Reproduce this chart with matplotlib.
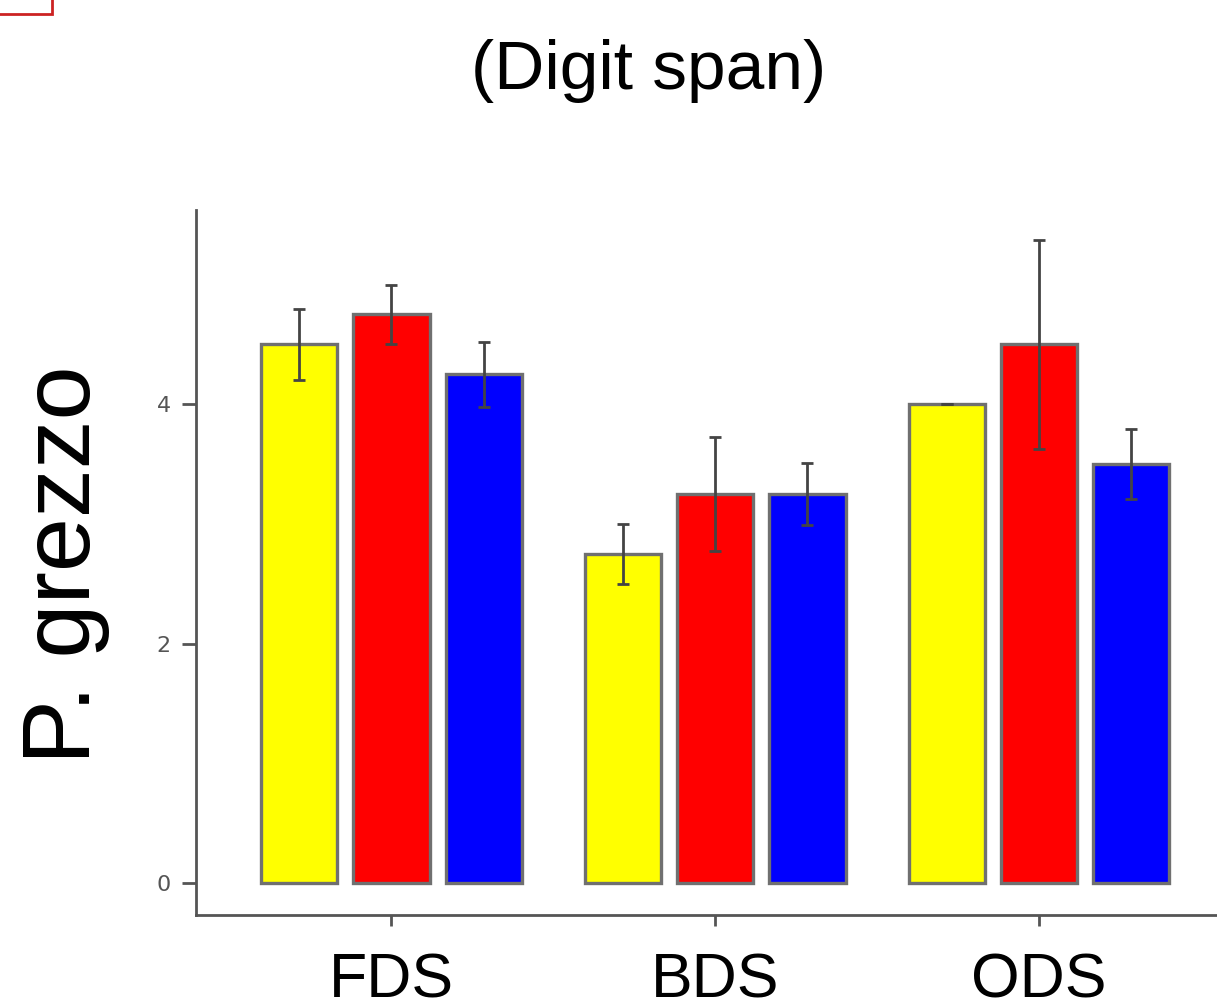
import numpy as np
import matplotlib.pyplot as plt
from matplotlib.patches import Rectangle

groups = ['FDS', 'BDS', 'ODS']
yellow_vals = [4.50, 2.75, 4.00]
yellow_err = [0.30, 0.25, 0.0]
red_vals = [4.75, 3.25, 4.50]
red_err = [0.25, 0.48, 0.87]
blue_vals = [4.25, 3.25, 3.50]
blue_err = [0.27, 0.26, 0.29]
yticks = [0, 2, 4]

fig = plt.figure(figsize=(12.17, 10.08), dpi=100)
ax = fig.add_axes([0.161, 0.0923, 0.839, 0.699])

x = np.arange(1, len(groups) + 1)
off = 0.285
w = 0.235
series = [(yellow_vals, yellow_err, '#ffff00'),
          (red_vals, red_err, '#ff0000'),
          (blue_vals, blue_err, '#0000ff')]
for i, (vals, err, col) in enumerate(series):
    pos = x + (i - 1) * off
    ax.bar(pos, vals, width=w, color=col, edgecolor='#707070', linewidth=2.4, zorder=2)
    ax.errorbar(pos, vals, yerr=err, fmt='none', ecolor='#444444', elinewidth=2,
                capsize=4, capthick=2, zorder=3)

ax.set_xlim(0.396, 3.55)
ax.set_ylim(-0.267, 5.62)
ax.set_xticks(x)
ax.set_xticklabels(groups, fontsize=45, fontfamily='Liberation Sans')
ax.set_yticks(yticks)
ax.set_yticklabels([str(t) for t in yticks], fontsize=16, color='#555555')
ax.tick_params(axis='y', length=10, width=2, color='#555555', pad=8)
ax.tick_params(axis='x', length=8, width=2, color='#555555', pad=18)
for s in ['top', 'right']:
    ax.spines[s].set_visible(False)
for s in ['left', 'bottom']:
    ax.spines[s].set_color('#555555')
    ax.spines[s].set_linewidth(2)

fig.text(0.053, 0.44, 'P. grezzo', fontsize=70, fontfamily='Liberation Sans',
         rotation=90, ha='center', va='center')
fig.text(0.533, 0.93, '(Digit span)', fontsize=50, fontfamily='Liberation Sans',
         ha='center', va='center')

# red frame corner at top-left
fig.patches.append(Rectangle((-0.05, 1 - 14 / 1008), 0.05 + 52 / 1217, 0.05,
                             transform=fig.transFigure, fill=False,
                             edgecolor='#cc2222', linewidth=2, clip_on=False))

fig.savefig('out.png', dpi=100)
